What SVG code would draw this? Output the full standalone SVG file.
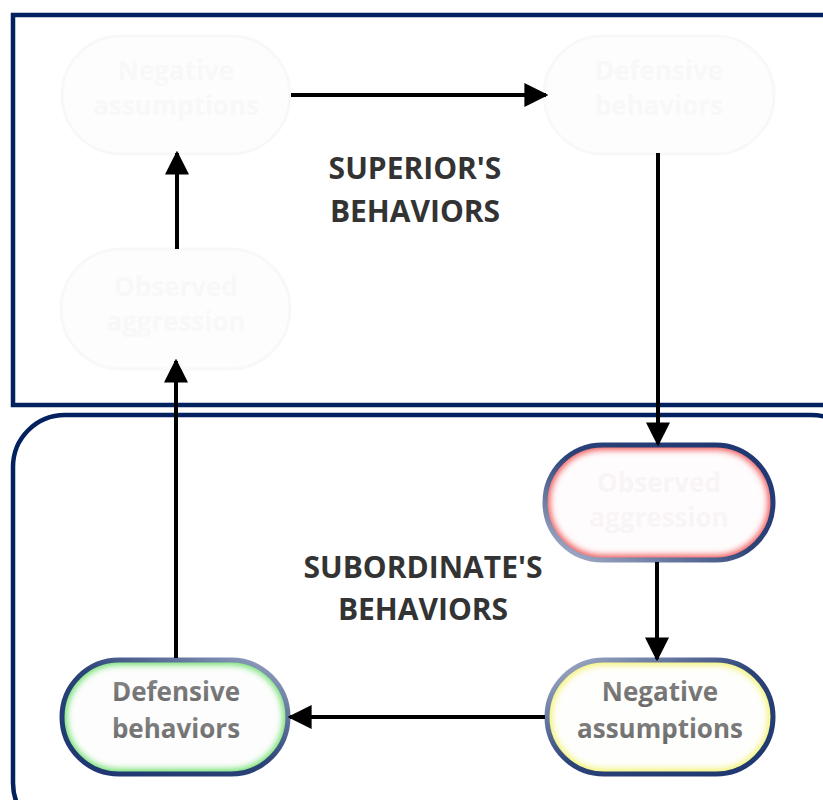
<svg xmlns="http://www.w3.org/2000/svg" width="823" height="800" viewBox="0 0 823 800">
<style>
.frame{fill:none;stroke:#03215f;stroke-width:4.5}
.lbl{font-family:"Open Sans","Liberation Sans",sans-serif;font-weight:700;font-size:30px;fill:#333;text-anchor:middle}
.ntx{font-family:"Open Sans","Liberation Sans",sans-serif;font-weight:700;font-size:26px;text-anchor:middle}
.faint{fill:#fdfdfd;stroke:#f8f8f8;stroke-width:3}
.ftx{fill:#f8f8f8}
.btx{fill:url(#tg)}
.con{stroke:#000;stroke-width:4;fill:none;marker-end:url(#ah)}
</style>
<defs>
<marker id="ah" viewBox="0 0 10 10" refX="9" refY="5" markerWidth="6" markerHeight="6" markerUnits="strokeWidth" orient="auto">
<path d="M0,0L10,5L0,10z" fill="#000"/>
</marker>
<linearGradient id="tg" x1="0" y1="0" x2="0" y2="1">
<stop offset="0" stop-color="#8c8c8c"/><stop offset="1" stop-color="#666"/>
</linearGradient>
<linearGradient id="sDB" x1="1" y1="0" x2="0" y2="1">
<stop offset="0" stop-color="#9aa6c4"/><stop offset="0.5" stop-color="#2c4378"/><stop offset="1" stop-color="#1d3670"/>
</linearGradient>
<linearGradient id="sNA" x1="0" y1="0" x2="1" y2="1">
<stop offset="0" stop-color="#a8b2cc"/><stop offset="0.5" stop-color="#2c4378"/><stop offset="1" stop-color="#1d3670"/>
</linearGradient>
<linearGradient id="sOA" x1="0" y1="1" x2="1" y2="0">
<stop offset="0" stop-color="#b0b8d0"/><stop offset="0.5" stop-color="#2c4378"/><stop offset="1" stop-color="#1d3670"/>
</linearGradient>
<filter id="blur" x="-10%" y="-20%" width="120%" height="140%"><feGaussianBlur stdDeviation="3"/></filter>
<clipPath id="cOA"><rect x="545" y="445" width="228" height="115" rx="57.5"/></clipPath>
<clipPath id="cDB"><rect x="62" y="660" width="226" height="114" rx="57"/></clipPath>
<clipPath id="cNA"><rect x="547" y="660" width="226" height="114" rx="57"/></clipPath>
</defs>

<g id="superior-frame">
<rect class="frame" x="13" y="15" width="840" height="390"/>
<text class="lbl" x="415" y="179">SUPERIOR'S</text>
<text class="lbl" x="415" y="222">BEHAVIORS</text>
</g>
<g id="subordinate-frame">
<rect class="frame" x="13" y="415" width="850" height="420" rx="52"/>
<text class="lbl" x="423" y="578">SUBORDINATE'S</text>
<text class="lbl" x="423" y="620">BEHAVIORS</text>
</g>

<g id="sup-negative-assumptions">
<rect class="faint" x="62" y="36" width="228" height="118" rx="59"/>
<text class="ntx ftx" x="176" y="80">Negative</text>
<text class="ntx ftx" x="176" y="115">assumptions</text>
</g>
<g id="sup-defensive-behaviors">
<rect class="faint" x="544" y="36" width="230" height="118" rx="59"/>
<text class="ntx ftx" x="659" y="80">Defensive</text>
<text class="ntx ftx" x="659" y="115">behaviors</text>
</g>
<g id="sup-observed-aggression">
<rect class="faint" x="61" y="249" width="229" height="120" rx="60"/>
<text class="ntx ftx" x="176" y="296">Observed</text>
<text class="ntx ftx" x="176" y="331">aggression</text>
</g>

<g id="sub-observed-aggression">
<rect x="545" y="445" width="228" height="115" rx="57.5" fill="#fffcfd"/>
<rect x="545" y="445" width="228" height="115" rx="57.5" fill="none" stroke="#f05a5a" stroke-width="10" filter="url(#blur)" clip-path="url(#cOA)"/>
<rect x="545" y="445" width="228" height="115" rx="57.5" fill="none" stroke="url(#sOA)" stroke-width="5"/>
<text class="ntx" x="659" y="492" fill="#f9f4f6">Observed</text>
<text class="ntx" x="659" y="527" fill="#f9f4f6">aggression</text>
</g>
<g id="sub-defensive-behaviors">
<rect x="62" y="660" width="226" height="114" rx="57" fill="#fdfdfd"/>
<rect x="62" y="660" width="226" height="114" rx="57" fill="none" stroke="#70e070" stroke-width="10" filter="url(#blur)" clip-path="url(#cDB)"/>
<rect x="62" y="660" width="226" height="114" rx="57" fill="none" stroke="url(#sDB)" stroke-width="5"/>
<text class="ntx btx" x="176" y="701">Defensive</text>
<text class="ntx btx" x="176" y="738">behaviors</text>
</g>
<g id="sub-negative-assumptions">
<rect x="547" y="660" width="226" height="114" rx="57" fill="#fefefc"/>
<rect x="547" y="660" width="226" height="114" rx="57" fill="none" stroke="#f2f270" stroke-width="10" filter="url(#blur)" clip-path="url(#cNA)"/>
<rect x="547" y="660" width="226" height="114" rx="57" fill="none" stroke="url(#sNA)" stroke-width="5"/>
<text class="ntx btx" x="660" y="701">Negative</text>
<text class="ntx btx" x="660" y="738">assumptions</text>
</g>

<g id="connectors">
<line class="con" x1="291" y1="95" x2="546" y2="95"/>
<line class="con" x1="658" y1="153" x2="658" y2="444"/>
<line class="con" x1="657" y1="562" x2="657" y2="659"/>
<line class="con" x1="545" y1="717" x2="290" y2="717"/>
<line class="con" x1="176" y1="658" x2="176" y2="361"/>
<line class="con" x1="177" y1="249" x2="177" y2="153"/>
</g>
</svg>
